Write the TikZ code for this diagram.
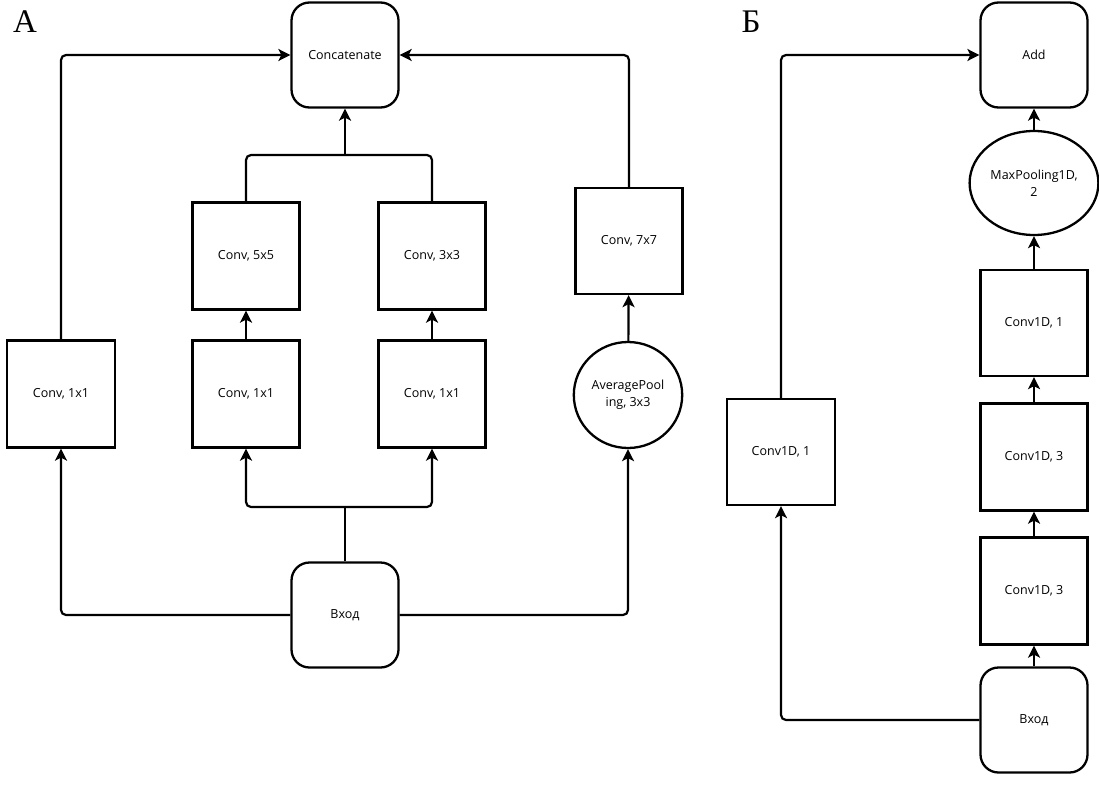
\documentclass[tikz,border=0pt]{standalone}
\usepackage{fontspec}
\setmainfont{Open Sans}
\newfontfamily\labelfont{Liberation Serif}
\usetikzlibrary{arrows.meta,shapes.geometric}
\tikzset{
  base/.style={draw=black, line width=2.3pt, fill=white, align=center, inner sep=2pt,
    font=\fontsize{12.5}{17}\selectfont},
  sqbox/.style={base, rectangle, minimum width=107pt, minimum height=107pt},
  rbox/.style={base, rectangle, rounded corners=18pt, minimum width=107pt, minimum height=105pt},
  circ/.style={base, ellipse, minimum width=106pt, minimum height=106pt},
  conn/.style={line width=2.2pt, rounded corners=5pt},
  arr/.style={conn, -{Stealth[length=12pt,width=12pt,inset=3pt]}},
  panel/.style={font=\labelfont\fontsize{33}{33}\selectfont, inner sep=0pt}
}
\begin{document}
\begin{tikzpicture}[x=1pt,y=-1pt]
\useasboundingbox (0,0) rectangle (1099,797);
% Panel labels
\node[panel] (labA) at (25,22) {А};
\node[panel] (labB) at (751,22) {Б};
% Panel A
\node[rbox] (concat) at (345,55) {Concatenate};
\node[sqbox, minimum width=108pt] (c11a) at (61,394) {Conv, 1x1};
\node[sqbox] (c55) at (246,256) {Conv, 5x5};
\node[sqbox] (c33) at (432,256) {Conv, 3x3};
\node[sqbox] (c11b) at (246,394) {Conv, 1x1};
\node[sqbox] (c11c) at (432,394) {Conv, 1x1};
\node[sqbox, minimum height=106pt] (c77) at (629,241) {Conv, 7x7};
\node[circ] (avg) at (628,395) {AveragePool\\ing, 3x3};
\node[rbox] (inA) at (345,615) {Вход};
\coordinate (splitA) at (345,507);
\coordinate (mergeA) at (345,155);
\draw[arr] (inA.west) -| (c11a.south);
\draw[arr] (inA.east) -| (avg.south);
\draw[conn] (inA.north) -- (splitA);
\draw[arr] (splitA) -| (c11b.south);
\draw[arr] (splitA) -| (c11c.south);
\draw[arr] (c11b) -- (c55);
\draw[arr] (c11c) -- (c33);
\draw[arr] (avg) -- (c77);
\draw[conn] (c55.north) |- (mergeA);
\draw[conn] (c33.north) |- (mergeA);
\draw[arr] (mergeA) -- (concat.south);
\draw[arr] (c11a.north) |- (concat.west);
\draw[arr] (c77.north) |- (concat.east);
% Panel B
\node[rbox] (add) at (1034,55) {Add};
\node[circ, minimum width=107pt, minimum height=104pt] (maxp) at (1034,183) {MaxPooling1D,\\2};
\node[sqbox, minimum height=106pt] (d1) at (1034,323) {Conv1D, 1};
\node[sqbox] (d3a) at (1034,457) {Conv1D, 3};
\node[sqbox] (d3b) at (1034,591) {Conv1D, 3};
\node[rbox] (inB) at (1034,720) {Вход};
\node[sqbox, minimum width=108pt, minimum height=106pt] (d1l) at (781,452) {Conv1D, 1};
\draw[arr] (inB) -- (d3b);
\draw[arr] (d3b) -- (d3a);
\draw[arr] (d3a) -- (d1);
\draw[arr] (d1) -- (maxp);
\draw[arr] (maxp) -- (add);
\draw[arr] (inB.west) -| (d1l.south);
\draw[arr] (d1l.north) |- (add.west);
\end{tikzpicture}
\end{document}
